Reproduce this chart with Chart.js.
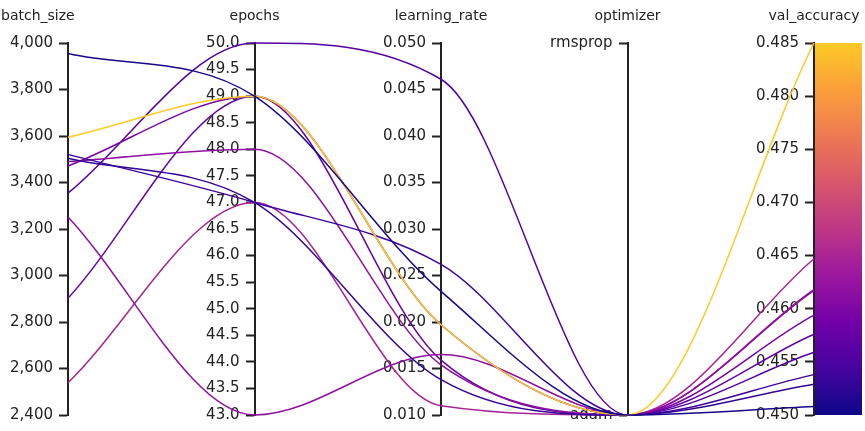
<!DOCTYPE html>
<html>
<head>
<meta charset="utf-8">
<title>Parallel coordinates</title>
<script src="https://cdn.jsdelivr.net/npm/chart.js@4.4.1/dist/chart.umd.min.js"></script>
<style>
  html, body { margin: 0; padding: 0; background: #fff; }
  #wrap { width: 865px; height: 431px; }
</style>
</head>
<body>
<div id="wrap"><canvas id="chart" width="865" height="431"></canvas></div>
<script>
// one entry per run
const batchSize    = [3955, 3595, 3521, 3504, 3490, 3471, 3354, 3252, 2902, 2539];
const epochs       = [49, 49, 47, 47, 48, 49, 50, 43, 49, 47];
const learningRate = [0.0233, 0.0197, 0.0262, 0.0138, 0.0154, 0.0197, 0.0461, 0.0165, 0.0159, 0.0110];
const optimizer    = ['adam', 'adam', 'adam', 'adam', 'adam', 'adam', 'adam', 'adam', 'adam', 'adam'];
const valAccuracy  = [0.4508, 0.4850, 0.4538, 0.4529, 0.4617, 0.4594, 0.4559, 0.4618, 0.4576, 0.4647];

const optimizerCategories = ['adam', 'rmsprop'];
const axisNames = ['batch_size', 'epochs', 'learning_rate', 'optimizer', 'val_accuracy'];
const axisRanges = [[2400, 4000], [43, 50], [0.01, 0.05], [0, 1], [0.45, 0.485]];
const axisSteps = [200, 0.5, 0.005, 1, 0.005];

const plasma = ['#0d0887', '#46039f', '#7201a8', '#9c179e', '#bd3786',
                '#d8576b', '#ed7953', '#fb9f3a', '#fdca26'];

function hexRgb(h) {
  return [parseInt(h.slice(1, 3), 16), parseInt(h.slice(3, 5), 16), parseInt(h.slice(5, 7), 16)];
}

function plasmaAt(t) {
  t = Math.max(0, Math.min(1, t));
  const p = t * (plasma.length - 1);
  const i = Math.min(Math.floor(p), plasma.length - 2);
  const f = p - i;
  const a = hexRgb(plasma[i]), b = hexRgb(plasma[i + 1]);
  const c = a.map((v, k) => Math.round(v + (b[k] - v) * f));
  return `rgb(${c[0]},${c[1]},${c[2]})`;
}

const norm = (v, k) => (v - axisRanges[k][0]) / (axisRanges[k][1] - axisRanges[k][0]);

const datasets = batchSize.map((b, i) => {
  const row = [b, epochs[i], learningRate[i], optimizerCategories.indexOf(optimizer[i]), valAccuracy[i]];
  return {
    data: row.map((v, k) => ({ x: k, y: norm(v, k) })),
    borderColor: plasmaAt(norm(valAccuracy[i], 4)),
    borderWidth: 1.5,
    pointRadius: 0,
    fill: false,
    cubicInterpolationMode: 'monotone',
    clip: false
  };
});

const tickFormat = [
  v => v.toLocaleString('en-US'),
  v => v.toFixed(1),
  v => v.toFixed(3),
  v => optimizerCategories[Math.round(v)],
  v => v.toFixed(3)
];

// axes placed at an x value put their labels right on the line, so push them left
const LABEL_GAP = 15;
function shiftLabels(scale) {
  if (scale._shifted) return;
  scale._shifted = true;
  const orig = scale._computeLabelItems.bind(scale);
  scale._computeLabelItems = (area) => orig(area).map(item => {
    item.options.translation[0] -= LABEL_GAP;
    return item;
  });
}

const scales = {
  x: { type: 'linear', min: 0, max: 4, display: false },
  y: { type: 'linear', min: 0, max: 1, display: false }
};
axisNames.forEach((name, k) => {
  scales['y' + k] = {
    type: 'linear',
    axis: 'y',
    position: { x: k },
    min: axisRanges[k][0],
    max: axisRanges[k][1],
    afterUpdate: shiftLabels,
    border: { display: true, color: '#222', width: 2 },
    grid: { drawOnChartArea: false, drawTicks: true, tickLength: 8, tickWidth: 2, color: '#222' },
    ticks: {
      stepSize: axisSteps[k],
      autoSkip: false,
      color: '#222',
      font: { family: 'DejaVu Sans', size: 15 },
      callback: tickFormat[k]
    }
  };
});

const colorbar = {
  id: 'colorbar',
  beforeDraw(chart) {
    const s = chart.scales.y4;
    const ctx = chart.ctx;
    const left = chart.scales.x.getPixelForValue(4) + 1;
    const g = ctx.createLinearGradient(0, s.bottom, 0, s.top);
    plasma.forEach((c, i) => g.addColorStop(i / (plasma.length - 1), c));
    ctx.save();
    ctx.fillStyle = g;
    ctx.fillRect(left, s.top, 862 - left, s.bottom - s.top);
    ctx.restore();
  }
};

const axisTitles = {
  id: 'axisTitles',
  afterDraw(chart) {
    const ctx = chart.ctx;
    ctx.save();
    ctx.font = '14px "DejaVu Sans"';
    ctx.fillStyle = '#222';
    ctx.textBaseline = 'middle';
    axisNames.forEach((name, k) => {
      const w = ctx.measureText(name).width;
      let x = chart.scales.x.getPixelForValue(k) - w / 2;
      if (k === 0) x = 1;
      x = Math.max(1, Math.min(chart.width - 3 - w, x));
      ctx.fillText(name, x, 16);
    });
    ctx.restore();
  }
};

new Chart(document.getElementById('chart').getContext('2d'), {
  type: 'line',
  data: { datasets },
  options: {
    responsive: false,
    animation: false,
    layout: { padding: { left: 68, right: 51, top: 43, bottom: 16 } },
    plugins: {
      legend: { display: false },
      tooltip: { enabled: false }
    },
    scales
  },
  plugins: [colorbar, axisTitles]
});
</script>
</body>
</html>
